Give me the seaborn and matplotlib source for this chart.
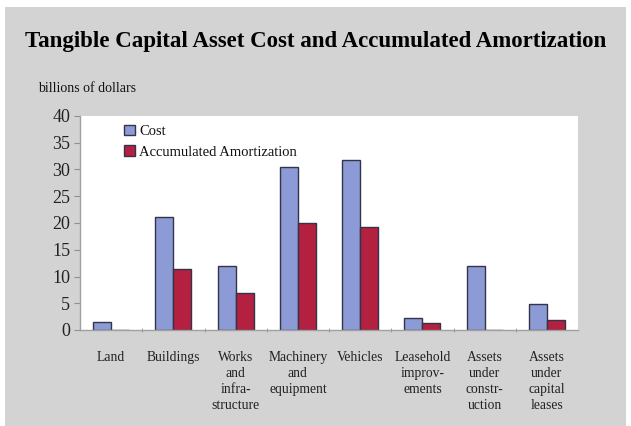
import numpy as np
import pandas as pd
import seaborn as sb
import matplotlib.pyplot as plt
from matplotlib.patches import Rectangle

categories = ['Land', 'Buildings', 'Works\nand\ninfra-\nstructure', 'Machinery\nand\nequipment',
              'Vehicles', 'Leasehold\nimprov-\nements', 'Assets\nunder\nconstr-\nuction',
              'Assets\nunder\ncapital\nleases']
cost = [1.5, 21.2, 12.0, 30.5, 31.8, 2.2, 12.0, 4.9]
amortization = [0.0, 11.4, 7.0, 20.0, 19.2, 1.3, 0.0, 1.9]
series = ['Cost', 'Accumulated Amortization']
colors = ['#8c9bd6', '#b4203f']

df = pd.DataFrame({
    'category': categories * 2,
    'value': cost + amortization,
    'series': [series[0]] * len(categories) + [series[1]] * len(categories),
})

sb.set_style('white')
plt.rcParams['font.family'] = ['Liberation Serif', 'DejaVu Serif']
plt.rcParams['text.color'] = '#111111'
plt.rcParams['xtick.color'] = '#222222'
plt.rcParams['ytick.color'] = '#222222'

fig = plt.figure(figsize=(6.31, 4.26), dpi=100)
fig.patch.set_facecolor('white')
# grey panel behind the chart
fig.patches.append(Rectangle((5 / 631, 0), 621 / 631, 419 / 426, transform=fig.transFigure,
                             facecolor='#d3d3d3', edgecolor='none', zorder=-10))

ax = fig.add_axes([80 / 631, 1 - 330 / 426, 498 / 631, 214 / 426])
ax.set_zorder(1)
ax.set_facecolor('white')
sb.barplot(data=df, x='category', y='value', hue='series', palette=colors, saturation=1,
           width=0.58, edgecolor='#33334a', linewidth=1, ax=ax)

ax.set_ylim(0, 40)
ax.set_xlim(-0.5, len(categories) - 0.5)
ax.set_yticks(range(0, 41, 5))
ax.tick_params(axis='y', labelsize=13, length=4, color='#909090', left=True, pad=3)
ax.set_xticks(range(len(categories)))
ax.set_xticklabels(categories, fontsize=9.8, linespacing=1.3, va='top')
ax.tick_params(axis='x', length=0, pad=15)
ax.set_xticks(np.arange(0.5, len(categories) - 0.5, 1), minor=True)
ax.tick_params(axis='x', which='minor', length=3, color='#909090', bottom=True, direction='inout')
ax.set_xlabel('')
ax.set_ylabel('')
for side in ['top', 'right']:
    ax.spines[side].set_visible(False)
for side in ['left', 'bottom']:
    ax.spines[side].set_color('#a0a0a0')
    ax.spines[side].set_linewidth(1)

leg = ax.legend(loc='upper left', bbox_to_anchor=(0.07, 1.0), frameon=False, fontsize=10.5,
                handlelength=0.75, handleheight=0.75, handletextpad=0.3, labelspacing=0.5,
                borderaxespad=0.2)

fig.text(0.5, 1 - 42 / 426, 'Tangible Capital Asset Cost and Accumulated Amortization',
         ha='center', va='center', fontsize=16.5, fontweight='bold', color='black')
fig.text(38 / 631, 1 - 88 / 426, 'billions of dollars', ha='left', va='center', fontsize=10)

plt.savefig('out.png', dpi=100, facecolor=fig.get_facecolor())
